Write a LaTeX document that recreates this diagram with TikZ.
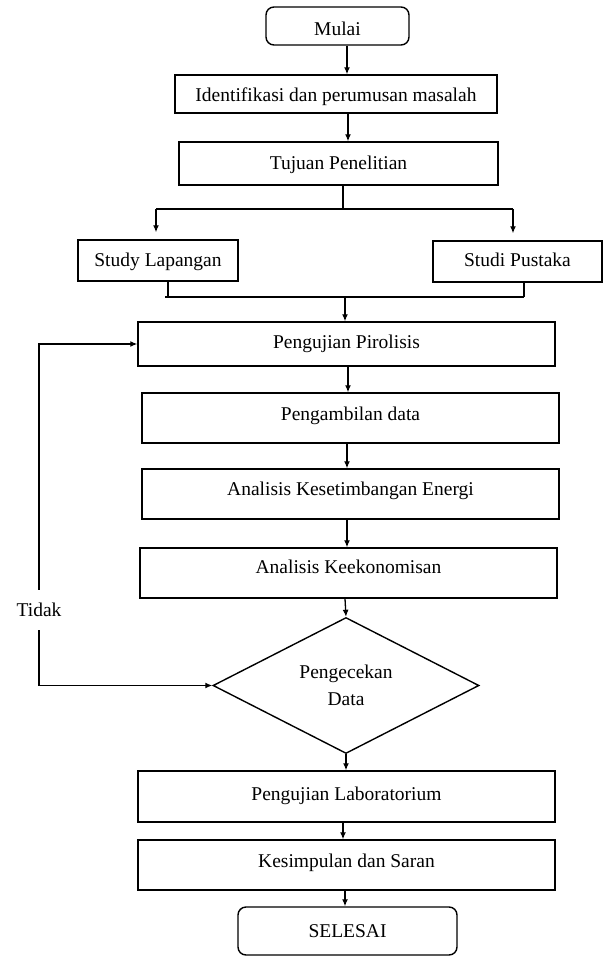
\documentclass[tikz,border=0pt]{standalone}
\usepackage{fontspec}
\setmainfont{Liberation Serif}
\usetikzlibrary{shapes.geometric,arrows.meta}
\begin{document}
\begin{tikzpicture}[x=1pt,y=-1pt,
  font=\fontsize{19.5pt}{27pt}\selectfont,
  box/.style={draw, rectangle, inner sep=0pt, line width=1.4pt, align=center},
  term/.style={box, rounded corners=8pt},
  decision/.style={draw, diamond, inner sep=0pt, line width=1.4pt, align=center,
    minimum width=266pt, minimum height=136pt, aspect=1.96},
  ln/.style={line width=1.3pt},
  arr/.style={ln, -{Latex[length=7pt,width=6pt]}},
  barr/.style={ln, {Latex[length=7pt,width=6pt]}-{Latex[length=7pt,width=6pt]}},
  lbl/.style={fill=white, inner xsep=2pt, inner ysep=0pt, minimum height=40pt}]
\useasboundingbox (0,0) rectangle (603,957);

% nodes
\node[term, minimum width=143pt, minimum height=38pt, text height=29pt, text depth=9pt] (mulai) at (337.5,26) {Mulai};
\node[box, minimum width=322pt, minimum height=38pt, text height=27pt, text depth=11pt] (ident) at (336,94) {Identifikasi dan perumusan masalah};
\node[box, minimum width=319pt, minimum height=43pt, text height=28pt, text depth=15pt] (tujuan) at (338.5,163.5) {Tujuan Penelitian};
\node[box, minimum width=160pt, minimum height=41pt, text height=27pt, text depth=14pt] (studyl) at (158,260.5) {Study Lapangan};
\node[box, minimum width=169pt, minimum height=41pt, text height=26pt, text depth=15pt] (studip) at (517.5,261.5) {Studi Pustaka};
\node[box, minimum width=417pt, minimum height=44pt, text height=26pt, text depth=18pt] (piro) at (346.5,344) {Pengujian Pirolisis};
\node[box, minimum width=417pt, minimum height=50pt, text height=27pt, text depth=23pt] (ambil) at (350.5,418) {Pengambilan data};
\node[box, minimum width=417pt, minimum height=50pt, text height=26pt, text depth=24pt] (energi) at (350.5,494) {Analisis Kesetimbangan Energi};
\node[box, minimum width=417pt, minimum height=50pt, text height=25pt, text depth=25pt] (ekon) at (348.5,573) {Analisis Keekonomisan};
\node[decision] (cek) at (346,685.5) {Pengecekan\\Data};
\node[box, minimum width=417pt, minimum height=51pt, text height=29pt, text depth=22pt] (lab) at (346.5,796.5) {Pengujian Laboratorium};
\node[box, minimum width=417pt, minimum height=50pt, text height=27pt, text depth=23pt] (kesimp) at (346.5,865) {Kesimpulan dan Saran};
\node[term, minimum width=219pt, minimum height=48pt, text height=30pt, text depth=18pt] (selesai) at (347.5,931) {SELESAI};

% columns for connectors
\coordinate (c343) at (343,0);
\coordinate (c345) at (345,0);
\coordinate (c347) at (347,0);
\coordinate (c348) at (348,0);
\coordinate (fbx) at (39,0);

% main flow
\draw[arr] (mulai.south -| c347) -- (ident.north -| c347);
\draw[arr] (ident.south -| c348) -- (tujuan.north -| c348);

% split
\coordinate (js) at (343,209);
\coordinate (jl) at (156,209);
\coordinate (jr) at (513,209);
\draw[ln] (tujuan.south -| js) -- (js);
\draw[ln] (jl) -- (jr);
\draw[arr, shorten >=7pt] (jl) -- (studyl.north -| jl);
\draw[arr, shorten >=7pt] (jr) -- (studip.north -| jr);

% merge
\coordinate (ml) at (168,297);
\coordinate (mle) at (165,297);
\coordinate (mr) at (524,297);
\coordinate (mm) at (345,297);
\draw[ln] (studyl.south -| ml) -- (ml);
\draw[ln] (studip.south -| mr) -- (mr);
\draw[ln] (mle) -- (mr);
\draw[arr] (mm) -- (piro.north -| mm);

\draw[arr] (piro.south -| c348) -- (ambil.north -| c348);
\draw[arr] (ambil.south -| c347) -- (energi.north -| c347);
\draw[arr] (energi.south -| c347) -- (ekon.north -| c347);
\draw[arr] (ekon.south -| c345) -- (cek.north);
\draw[arr] (cek.south) -- (lab.north -| cek.south);
\draw[arr] (lab.south -| c343) -- (kesimp.north -| c343);
\draw[arr] (kesimp.south -| c345) -- (selesai.north -| c345);

% feedback loop
\draw[barr] (cek.west) -- (cek.west -| fbx) -- (piro.west -| fbx) -- (piro.west);
\node[lbl] (tidak) at (39,610) {Tidak};
\end{tikzpicture}
\end{document}
